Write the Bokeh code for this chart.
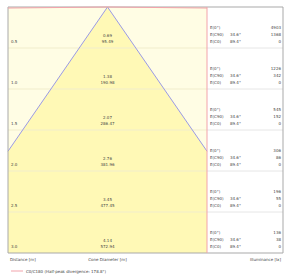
import math
from bokeh.plotting import figure
from bokeh.models import Range1d, ColumnDataSource
from bokeh.core.properties import value
from bokeh.embed import file_html
from bokeh.resources import INLINE

# ---------------- data ----------------
distances = [0.5, 1.0, 1.5, 2.0, 2.5, 3.0]
cone_c90 = [0.69, 1.38, 2.07, 2.76, 3.45, 4.14]
cone_c0 = [95.49, 190.98, 286.47, 381.96, 477.45, 572.94]
e_0 = [4903, 1226, 545, 306, 196, 136]
e_c90 = [1368, 342, 152, 86, 55, 38]
e_c0 = [0, 0, 0, 0, 0, 0]
angle_c90 = 34.6
angle_c0 = 89.4
half_peak_c0c180 = 178.8
row_labels = ["E(0°)", "E(C90)", "E(C0)"]
axis_labels = ["Distance [m]", "Cone Diameter [m]", "Illuminance [lx]"]
legend_label = "C0/C180 (Half-peak divergence: %.1f°)" % half_peak_c0c180

# ---------------- layout ----------------
PX = 82.0                  # pixels per metre
HALF_W = 99.5 / PX         # half width of cone panel (m)
TABLE_R = HALF_W + 76 / PX # right edge of table
W, H = 284, 275
FONT = value("DejaVu Sans")
FS = "4px"
TXT = "#444444"
BG_OUT = "#FFFDE4"
BG_CONE = "#FFF9B6"
ROW_LINE = "#F1EDCC"
TAB_LINE = "#E6E6E6"
BORDER = "#A9A9A9"
PINK = "#F2A3AB"
BLUE = "#9A9AE6"

x0 = -HALF_W - 7.5 / PX
y0 = -6.5 / PX
D = distances[-1]

p = figure(width=W, height=H, x_range=Range1d(x0, x0 + W / PX),
           y_range=Range1d(y0 + H / PX, y0), min_border=0,
           toolbar_location=None, output_backend="svg",
           x_axis_type=None, y_axis_type=None, outline_line_color=None,
           background_fill_color="white", border_fill_color="white")
p.grid.visible = False

# panel background
p.quad(left=[-HALF_W], right=[HALF_W], top=[0], bottom=[D],
       fill_color=BG_OUT, line_color=None)

# cone (C90 half angle)
t = math.tan(math.radians(angle_c90))
d_edge = min(HALF_W / t, D)
p.patch(x=[0, HALF_W, HALF_W, -HALF_W, -HALF_W],
        y=[0, d_edge, D, D, d_edge], fill_color=BG_CONE, line_color=None)

# row lines
p.segment(x0=[-HALF_W] * 5, x1=[HALF_W] * 5, y0=distances[:-1], y1=distances[:-1],
          line_color=ROW_LINE, line_width=1)
p.segment(x0=[HALF_W] * 5, x1=[TABLE_R] * 5, y0=distances[:-1], y1=distances[:-1],
          line_color=TAB_LINE, line_width=1)

# cone edges
p.segment(x0=[0, 0], y0=[0, 0], x1=[-HALF_W, HALF_W], y1=[d_edge, d_edge],
          line_color=BLUE, line_width=1)

# frame
p.quad(left=[-HALF_W], right=[TABLE_R], top=[0], bottom=[D],
       fill_color=None, line_color=BORDER, line_width=1)
p.segment(x0=[HALF_W], x1=[HALF_W], y0=[0], y1=[D], line_color=PINK, line_width=1)

# C0 half-peak line
t0 = math.tan(math.radians(angle_c0))
d0 = HALF_W / t0
p.segment(x0=[0, 0], y0=[0, 0], x1=[-HALF_W, HALF_W], y1=[d0, d0],
          line_color=PINK, line_width=1)

def txt(src, align, xo, yo):
    p.text(x="x", y="y", text="t", source=ColumnDataSource(src),
           text_font=FONT, text_font_size=FS, text_color=TXT,
           text_align=align, text_baseline="middle", x_offset=xo, y_offset=yo)

# distance labels
txt(dict(x=[-HALF_W] * 6, y=distances, t=["%.1f" % d for d in distances]), "left", 3, -6.5)
# cone diameters
txt(dict(x=[0] * 6, y=distances, t=["%.2f" % c for c in cone_c90]), "center", 0, -12.5)
txt(dict(x=[0] * 6, y=distances, t=["%.2f" % c for c in cone_c0]), "center", 0, -6.5)

# table
offs = [-20.5, -13.5, -6.5]
for k in range(3):
    txt(dict(x=[HALF_W] * 6, y=distances, t=[row_labels[k]] * 6), "left", 3, offs[k])
txt(dict(x=[HALF_W] * 6, y=distances, t=["%.1f°" % angle_c90] * 6), "left", 23, offs[1])
txt(dict(x=[HALF_W] * 6, y=distances, t=["%.1f°" % angle_c0] * 6), "left", 23, offs[2])
for k, vals in enumerate([e_0, e_c90, e_c0]):
    txt(dict(x=[TABLE_R] * 6, y=distances, t=[str(v) for v in vals]), "right", -2, offs[k])

# axis captions
txt(dict(x=[-HALF_W], y=[D], t=[axis_labels[0]]), "left", 2, 6.5)
txt(dict(x=[0], y=[D], t=[axis_labels[1]]), "center", 0, 6.5)
txt(dict(x=[TABLE_R], y=[D], t=[axis_labels[2]]), "right", -2, 6.5)

# legend
p.segment(x0=[-HALF_W + 3 / PX], x1=[-HALF_W + 15 / PX], y0=[D + 18 / PX], y1=[D + 18 / PX],
          line_color=PINK, line_width=1)
txt(dict(x=[-HALF_W], y=[D + 18 / PX], t=[legend_label]), "left", 18, 0)

open("out.html", "w").write(file_html(p, INLINE))
